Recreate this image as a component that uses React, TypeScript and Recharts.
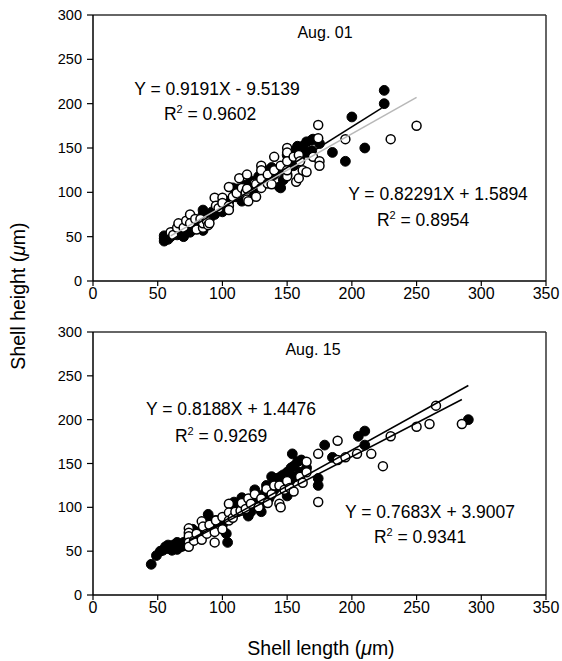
import React from "react";
import { ScatterChart, Scatter, XAxis, YAxis, ReferenceLine } from "recharts";

// Aug. 01 – shell length vs height (µm)
const aug01Filled: [number, number][] = [
  [55, 45], [55, 48], [55, 51], [58, 47], [60, 50], [65, 52], [70, 50], [70, 53], [75, 55],
  [77, 60], [80, 65], [82, 61], [85, 57], [85, 62], [85, 75], [85, 80], [90, 70], [94, 75],
  [100, 82], [100, 78], [105, 90], [108, 105], [110, 100], [110, 95], [115, 90], [120, 100],
  [122, 113], [125, 105], [130, 110], [135, 115], [136, 125], [140, 120], [144, 106], [147, 114],
  [145, 105], [145, 125], [150, 142], [150, 130], [150, 120], [155, 130], [155, 145], [158, 152],
  [160, 150], [160, 140], [165, 157], [165, 145], [169, 159], [170, 160], [169, 147], [175, 155],
  [185, 145], [195, 135], [200, 185], [210, 150], [225, 200], [225, 215],
  [62, 55], [68, 58], [92, 78], [112, 104], [118, 108], [128, 118], [138, 128], [152, 138],
  [157, 148], [162, 152],
];
const aug01Open: [number, number][] = [
  [60, 55], [62, 52], [65, 60], [66, 65], [70, 60], [72, 68], [75, 75], [75, 65], [79, 70],
  [80, 58], [83, 70], [85, 60], [85, 65], [88, 68], [89, 63], [90, 65], [94, 94], [95, 85],
  [97, 82], [100, 94], [100, 88], [105, 106], [105, 85], [105, 80], [108, 95], [111, 99],
  [113, 116], [115, 105], [118, 100], [119, 120], [119, 104], [119, 92], [120, 90], [125, 110],
  [126, 109], [126, 95], [130, 130], [130, 125], [130, 115], [130, 105], [135, 120], [135, 110],
  [138, 109], [140, 140], [140, 125], [145, 130], [150, 150], [150, 145], [150, 135], [150, 118],
  [150, 125], [155, 140], [157, 112], [159, 142], [159, 116], [160, 135], [162, 125], [165, 123],
  [170, 140], [174, 176], [174, 161], [175, 135], [175, 130], [195, 160], [230, 160], [250, 175],
];
const aug01FilledFit: [number, number][] = [[55, 41], [223, 195]];
const aug01OpenFit: [number, number][] = [[60, 51], [250, 207]];

// Aug. 15
const aug15Filled: [number, number][] = [
  [45, 35], [49, 45], [52, 50], [54, 51], [56, 55], [58, 53], [60, 55], [61, 51], [62, 57],
  [64, 58], [65, 52], [65, 60], [68, 55], [70, 60], [72, 58], [75, 60], [77, 75], [78, 65],
  [80, 70], [85, 75], [89, 92], [90, 87], [92, 80], [95, 85], [100, 80], [103, 70], [104, 60],
  [105, 90], [109, 106], [110, 100], [112, 95], [115, 111], [118, 100], [119, 94], [120, 90],
  [122, 95], [125, 120], [127, 110], [129, 101], [130, 95], [132, 115], [134, 125], [136, 110],
  [138, 135], [140, 130], [140, 120], [143, 125], [145, 135], [147, 137], [148, 120], [150, 113],
  [150, 140], [152, 130], [154, 161], [155, 147], [156, 135], [158, 152], [160, 140], [161, 154],
  [165, 145], [174, 133], [174, 125], [179, 171], [185, 157], [205, 181], [210, 187], [210, 171],
  [290, 200], [58, 57], [63, 55], [67, 58], [70, 56], [73, 62], [82, 72], [116, 102],
  [124, 108], [137, 122], [142, 133], [146, 126], [149, 130], [153, 145],
];
const aug15Open: [number, number][] = [
  [74, 76], [74, 71], [74, 67], [74, 60], [74, 55], [78, 62], [80, 70], [84, 84], [84, 63],
  [85, 78], [88, 70], [90, 80], [94, 60], [94, 72], [95, 85], [100, 89], [100, 75], [105, 104],
  [105, 94], [105, 85], [108, 88], [110, 95], [114, 96], [115, 105], [118, 98], [120, 110],
  [122, 104], [125, 115], [128, 100], [130, 110], [134, 121], [135, 105], [138, 115], [140, 125],
  [144, 125], [144, 104], [145, 100], [148, 120], [150, 130], [152, 122], [155, 118], [160, 135],
  [162, 128], [165, 152], [165, 140], [174, 161], [174, 106], [189, 176], [189, 154], [195, 157],
  [204, 161], [215, 161], [224, 147], [230, 181], [250, 192], [260, 195], [265, 216], [285, 195],
];
const aug15FilledFit: [number, number][] = [[75, 63], [290, 239]];
const aug15OpenFit: [number, number][] = [[75, 62], [285, 223]];

const xTicks = [0, 50, 100, 150, 200, 250, 300, 350];
const yTicks = [0, 50, 100, 150, 200, 250, 300];

const font = "'Liberation Sans', Arial, sans-serif";
const toPts = (arr: [number, number][]) => arr.map(([x, y]) => ({ x, y }));

const FilledDot = (p: any) => (
  <circle cx={p.cx} cy={p.cy} r={4.9} fill="#000" stroke="#000" strokeWidth={1} />
);
const OpenDot = (p: any) => (
  <circle cx={p.cx} cy={p.cy} r={4.5} fill="#fff" stroke="#000" strokeWidth={1.5} />
);
const NoDot = () => <g />;

function Panel({
  filled,
  open,
  filledFit,
  openFit,
  openFitColor,
  height,
  margin,
}: {
  filled: [number, number][];
  open: [number, number][];
  filledFit: [number, number][];
  openFit: [number, number][];
  openFitColor: string;
  height: number;
  margin: { top: number; right: number; bottom: number; left: number };
}) {
  return (
    <ScatterChart width={562} height={height} margin={margin}>
      <XAxis
        type="number"
        dataKey="x"
        domain={[0, 350]}
        ticks={xTicks}
        height={25}
        tickSize={5}
        tickMargin={2}
        tick={{ fill: "#000", fontSize: 16, fontFamily: font }}
        axisLine={{ stroke: "#000", strokeWidth: 1.5 }}
        tickLine={{ stroke: "#000", strokeWidth: 1.2 }}
        allowDataOverflow
      />
      <YAxis
        type="number"
        dataKey="y"
        domain={[0, 300]}
        ticks={yTicks}
        width={60}
        tickSize={6}
        tickMargin={5}
        tick={{ fill: "#000", fontSize: 14.5, fontFamily: font }}
        axisLine={{ stroke: "#000", strokeWidth: 1.5 }}
        tickLine={{ stroke: "#000", strokeWidth: 1.2 }}
        allowDataOverflow
      />
      <ReferenceLine y={300} stroke="#333" strokeWidth={1.5} />
      <ReferenceLine x={350} stroke="#333" strokeWidth={1.5} />
      <Scatter data={toPts(filled)} shape={FilledDot} isAnimationActive={false} />
      <Scatter data={toPts(open)} shape={OpenDot} isAnimationActive={false} />
      <Scatter
        data={toPts(openFit)}
        shape={NoDot}
        line={{ stroke: openFitColor, strokeWidth: 1.5 }}
        isAnimationActive={false}
      />
      <Scatter
        data={toPts(filledFit)}
        shape={NoDot}
        line={{ stroke: "#000", strokeWidth: 1.5 }}
        isAnimationActive={false}
      />
    </ScatterChart>
  );
}

function R2({ x, y, value }: { x: number; y: number; value: string }) {
  return (
    <text x={x} y={y} textAnchor="middle">
      R<tspan dy={-7} fontSize={11}>2</tspan>
      <tspan dy={7}>{` = ${value}`}</tspan>
    </text>
  );
}

export default function App() {
  return (
    <div style={{ position: "absolute", left: 0, top: 0, width: 562, height: 661, background: "#fff" }}>
      <Panel
        filled={aug01Filled}
        open={aug01Open}
        filledFit={aug01FilledFit}
        openFit={aug01OpenFit}
        openFitColor="#b8b8b8"
        height={310}
        margin={{ top: 15, right: 16, bottom: 4, left: 33 }}
      />
      <Panel
        filled={aug15Filled}
        open={aug15Open}
        filledFit={aug15FilledFit}
        openFit={aug15OpenFit}
        openFitColor="#000"
        height={351}
        margin={{ top: 22, right: 16, bottom: 41, left: 33 }}
      />
      <svg
        width={562}
        height={661}
        style={{ position: "absolute", left: 0, top: 0, pointerEvents: "none" }}
        fontFamily={font}
        fill="#000"
      >
        <text x={325} y={38} textAnchor="middle" fontSize={16}>Aug. 01</text>
        <g fontSize={17.5}>
          <text x={217} y={95} textAnchor="middle">Y = 0.9191X - 9.5139</text>
          <R2 x={210} y={120} value="0.9602" />
          <text x={438} y={200} textAnchor="middle">Y = 0.82291X + 1.5894</text>
          <R2 x={423} y={226} value="0.8954" />
        </g>
        <text x={313} y={355} textAnchor="middle" fontSize={16}>Aug. 15</text>
        <g fontSize={17.5}>
          <text x={231} y={415} textAnchor="middle">Y = 0.8188X + 1.4476</text>
          <R2 x={221} y={442} value="0.9269" />
          <text x={430} y={518} textAnchor="middle">Y = 0.7683X + 3.9007</text>
          <R2 x={420} y={543} value="0.9341" />
        </g>
        <text x={321} y={655} textAnchor="middle" fontSize={19.5}>
          Shell length (<tspan fontStyle="italic">μ</tspan>m)
        </text>
        <text x={25} y={296} textAnchor="middle" fontSize={19.5} transform="rotate(-90 25 296)">
          Shell height (<tspan fontStyle="italic">μ</tspan>m)
        </text>
      </svg>
    </div>
  );
}
